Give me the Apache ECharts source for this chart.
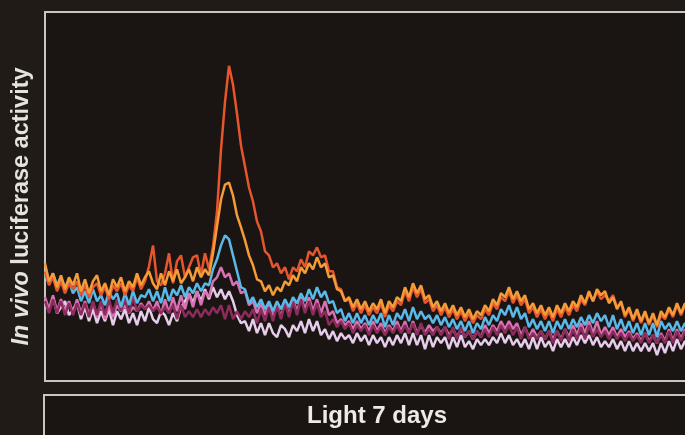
<!DOCTYPE html>
<html>
<head>
<meta charset="utf-8">
<script src="https://cdn.jsdelivr.net/npm/echarts@6/dist/echarts.min.js"></script>
<style>
html,body{margin:0;padding:0;background:#211b17;}
#c{width:685px;height:435px;}
</style>
</head>
<body>
<div id="c"></div>
<script>
// Luminescence traces (relative units), one sample per time step
const orange = [118,100,108,94,106,92,104,96,108,90, 102,88,100,106,90,98,86,102,94,104, 90,100,94,108,96,104,110,98,92,108, 96,110,100,112,98,104,112,100,114,104,
  112,106,128,155,182,197,199,186,166,154, 141,126,116,102,100,90,96,86,94,90, 100,96,106,100,114,108,118,112,124,114, 118,104,106,92,90,80,84,74,82,72,
  80,70,78,72,82,68,80,74,84,80, 94,84,98,88,96,82,86,74,80,70, 78,68,76,66,74,64,72,62,70,66, 76,70,82,76,88,84,94,82,90,80,
  86,72,78,68,76,66,74,64,76,68, 78,70,80,74,86,78,90,80,92,86, 90,78,84,72,80,66,74,62,72,60, 70,58,68,56,70,64,74,66,78,68, 78,70,76];
const red = [110,96,104,90,100,88,98,92,100,86, 96,84,94,98,86,94,82,96,90,98, 86,96,90,104,92,100,115,136,100,96, 108,128,98,120,126,104,114,124,126,106,
  128,112,135,170,232,280,316,297,268,236, 215,194,180,160,150,130,126,114,118,108, 114,102,114,110,122,114,130,126,134,124, 126,110,110,94,92,80,82,70,78,68,
  76,66,74,68,78,64,76,70,80,76, 90,80,94,84,92,78,82,70,76,66, 74,64,72,62,70,60,68,58,66,62, 72,66,78,72,84,80,90,78,86,76,
  82,68,74,64,72,62,70,60,72,64, 74,66,76,70,82,76,88,80,90,82, 86,80,86,74,78,64,72,60,70,58, 68,56,66,54,66,62,72,64,76,66, 76,68,74];
const blue = [106,98,108,96,104,94,100,88,94,80, 90,78,92,80,86,76,90,82,88,74, 88,76,90,78,86,84,92,80,90,78, 94,80,92,86,96,84,94,88,98,90,
  98,96,112,122,136,146,142,126,110,94, 92,78,84,74,82,72,80,70,80,72, 82,74,84,78,88,80,92,82,94,84, 90,78,80,68,72,60,68,58,68,58,
  66,56,66,58,68,54,66,56,68,62, 72,60,74,62,70,62,66,58,66,56, 64,54,62,52,60,50,60,48,58,52, 64,56,66,60,72,66,76,64,74,62,
  68,54,62,52,60,50,60,48,60,52, 62,52,62,54,64,56,66,58,68,60, 66,54,66,52,62,50,60,48,58,46, 58,46,58,44,60,52,58,50,60,50, 58,52,58];
const pink = [84,72,86,70,82,70,80,68,82,68, 80,66,78,64,78,62,76,64,76,70, 76,68,74,70,78,72,80,70,80,66, 82,68,84,70,86,72,88,74,90,76,
  90,84,100,104,114,104,108,96,100,88, 90,76,80,68,78,66,78,64,76,64, 80,66,82,70,84,72,84,70,82,68, 80,66,70,58,62,56,60,52,60,52,
  58,50,60,50,58,48,56,50,60,50, 60,48,60,48,56,48,56,50,54,48, 54,46,52,44,52,44,50,42,50,44, 56,48,56,50,60,52,60,52,58,46,
  54,44,52,44,50,42,50,42,50,42, 52,44,56,46,58,48,60,48,60,46, 54,46,54,44,52,44,50,42,48,40, 48,40,46,38,48,40,52,40,52,42, 52,40,50];
const maroon = [80,68,82,68,80,66,78,66,78,66, 78,64,80,66,80,66,82,68,82,70, 82,68,84,70,76,72,76,70,74,68, 74,68,76,62,76,64,70,64,72,64,
  72,66,74,68,76,62,76,62,70,62, 70,64,72,58,72,60,74,60,76,62, 78,64,80,66,82,68,80,66,78,64, 70,56,62,54,60,52,58,48,56,50,
  56,46,56,48,54,46,54,48,56,48, 56,48,58,46,58,46,52,46,54,46, 54,42,54,42,54,44,50,42,50,44, 52,44,54,46,56,48,56,46,54,42,
  54,42,48,42,50,42,50,38,50,40, 52,40,52,42,54,42,56,44,52,44, 50,42,50,42,48,40,48,40,46,38, 48,38,46,38,46,38,50,38,50,40, 50,38,48];
const pale = [80,70,84,68,74,80,66,72,78,62, 74,60,72,58,70,60,72,56,70,62, 72,58,68,56,70,60,74,62,58,70, 66,56,68,60,74,80,88,78,90,80,
  92,82,94,84,92,82,90,80,66,58, 60,50,62,48,58,46,58,48,44,56, 52,44,56,50,60,48,62,50,60,46, 52,42,50,40,48,42,46,38,48,40,
  46,36,46,38,44,34,44,36,46,38, 48,36,48,36,46,32,46,34,44,38, 44,32,44,34,46,34,40,32,42,36, 42,36,44,38,48,38,46,36,42,34,
  42,32,44,32,44,34,40,30,42,34, 42,34,44,36,46,38,46,36,44,34, 40,34,42,32,40,30,40,30,38,30, 38,30,38,26,38,28,40,30,42,32, 40,32,40];
const timeSteps = orange.map((_, i) => String(i));
const panelLabel = 'Light 7 days';

const chart = echarts.init(document.getElementById('c'));
const mk = (name, data, color) => ({
  name, type: 'line', data, showSymbol: false, symbol: 'none', smooth: false,
  lineStyle: { color, width: 2.5 }, itemStyle: { color }, z: 2
});
chart.setOption({
  animation: false,
  backgroundColor: '#211b17',
  grid: { left: 45, top: 12, width: 648, height: 369, show: true, outerBoundsMode: 'none', containLabel: false,
          backgroundColor: '#1a1512', borderColor: '#c9c6bf', borderWidth: 2 },
  xAxis: { type: 'category', data: timeSteps, boundaryGap: false,
           axisLine: { show: false }, axisTick: { show: false }, axisLabel: { show: false }, splitLine: { show: false } },
  yAxis: { type: 'value', min: 0, max: 370,
           axisLine: { show: false }, axisTick: { show: false }, axisLabel: { show: false }, splitLine: { show: false },
           name: '{i|In vivo} luciferase activity', nameLocation: 'middle', nameGap: 11, nameRotate: 90,
           nameTextStyle: { color: '#e6e2dc', fontFamily: 'Liberation Sans', fontWeight: 'bold', fontSize: 23.5, padding: [0, 20, 0, 0],
             rich: { i: { color: '#e6e2dc', fontFamily: 'Liberation Sans', fontWeight: 'bold', fontStyle: 'italic', fontSize: 23.5 } } } },
  series: [
    mk('pale', pale, '#e6cdec'),
    mk('pink', pink, '#d872b4'),
    mk('maroon', maroon, '#8c2c5c'),
    mk('blue', blue, '#5ab9e8'),
    mk('red', red, '#e6562c'),
    mk('orange', orange, '#f59c38')
  ],
  graphic: [
    { type: 'rect', shape: { x: 44, y: 395, width: 700, height: 80 },
      style: { fill: '#1a1512', stroke: '#c9c6bf', lineWidth: 2 } },
    { type: 'text', x: 377, y: 416,
      style: { text: panelLabel, fill: '#eeeae6', font: 'bold 24px "Liberation Sans"', align: 'center', verticalAlign: 'middle' } }
  ]
});
</script>
</body>
</html>
